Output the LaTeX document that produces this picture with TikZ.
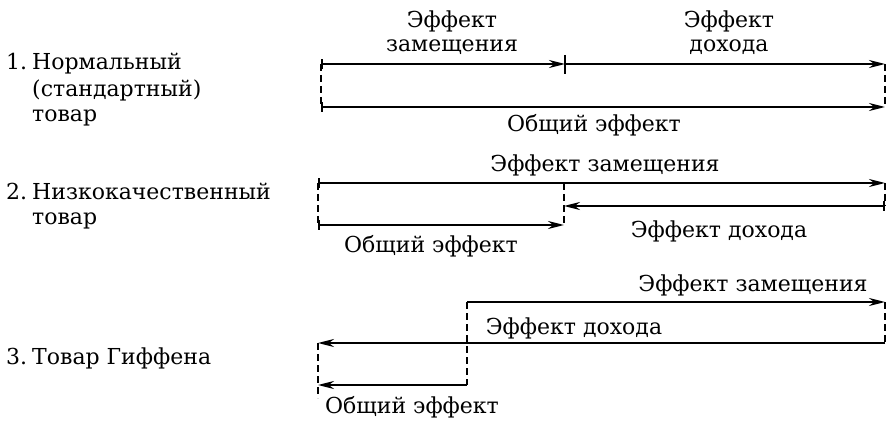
\documentclass[tikz,border=0pt]{standalone}
\usepackage{fontspec}
\setmainfont{DejaVu Serif}
\usetikzlibrary{arrows.meta}
\begin{document}
\begin{tikzpicture}[x=1pt,y=-1pt,
  lbl/.style={inner sep=0pt,font=\fontsize{22}{26}\selectfont},
  solidline/.style={line width=2.1pt},
  arr/.style={solidline,-{Stealth[length=16pt,width=8pt]}},
  tickarr/.style={solidline,{Bar[width=10pt,line width=2.1pt]}-{Stealth[length=16pt,width=8pt]}},
  dashln/.style={line width=1.9pt,dash pattern=on 7pt off 4pt}]
\useasboundingbox (0,0) rectangle (889,422);
% left labels
\node[lbl,anchor=base west] (n1) at (6,70) {1.};
\node[lbl,anchor=base west] (t1a) at (32,70) {Нормальный};
\node[lbl,anchor=base west] (t1b) at (32,97) {(стандартный)};
\node[lbl,anchor=base west] (t1c) at (32,122) {товар};
\node[lbl,anchor=base west] (n2) at (6,200) {2.};
\node[lbl,anchor=base west] (t2a) at (32,200) {Низкокачественный};
\node[lbl,anchor=base west] (t2b) at (32,225) {товар};
\node[lbl,anchor=base west] (n3) at (6,364) {3.};
\node[lbl,anchor=base west] (t3) at (32,364) {Товар Гиффена};
% row 1
\coordinate (A1) at (321,64);
\coordinate (M1) at (565,64);
\coordinate (M1t) at (565,55);
\coordinate (M1b) at (565,74);
\coordinate (B1) at (885,64);
\coordinate (C1) at (321,107);
\coordinate (D1) at (885,107);
\draw[tickarr] (A1) -- (M1);
\draw[solidline] (M1t) -- (M1b);
\draw[arr] (M1) -- (B1);
\draw[dashln] (A1) -- (C1);
\draw[dashln] (B1) -- (D1);
\draw[tickarr] (C1) -- (D1);
\node[lbl,anchor=base] (l1a) at (452,28) {Эффект};
\node[lbl,anchor=base] (l1b) at (452,52) {замещения};
\node[lbl,anchor=base] (l1c) at (729,28) {Эффект};
\node[lbl,anchor=base] (l1d) at (729,52) {дохода};
\node[lbl,anchor=base] (l1e) at (594,132) {Общий эффект};
% row 2
\coordinate (A2) at (318,183);
\coordinate (B2) at (885,183);
\coordinate (C2) at (318,225);
\coordinate (M2t) at (564,183);
\coordinate (M2) at (564,225);
\coordinate (M2m) at (564,206);
\coordinate (E2) at (885,206);
\draw[tickarr] (A2) -- (B2);
\draw[dashln] (A2) -- (C2);
\draw[tickarr] (C2) -- (M2);
\draw[dashln] (M2t) -- (M2);
\draw[dashln] (B2) -- (E2);
\draw[tickarr] (E2) -- (M2m);
\node[lbl,anchor=base] (l2a) at (605,172) {Эффект замещения};
\node[lbl,anchor=base] (l2b) at (719,238) {Эффект дохода};
\node[lbl,anchor=base] (l2c) at (431,252) {Общий эффект};
% row 3
\coordinate (A3) at (467,302);
\coordinate (B3) at (885,302);
\coordinate (E3) at (885,343);
\coordinate (C3) at (318,343);
\coordinate (F3) at (467,385);
\coordinate (G3) at (318,385);
\coordinate (H3) at (318,398);
\draw[arr] (A3) -- (B3);
\draw[dashln] (B3) -- (E3);
\draw[arr] (E3) -- (C3);
\draw[dashln] (A3) -- (F3);
\draw[arr] (F3) -- (G3);
\draw[dashln] (C3) -- (H3);
\node[lbl,anchor=base] (l3a) at (753,291) {Эффект замещения};
\node[lbl,anchor=base] (l3b) at (574,334) {Эффект дохода};
\node[lbl,anchor=base] (l3c) at (412,413) {Общий эффект};
\end{tikzpicture}
\end{document}
